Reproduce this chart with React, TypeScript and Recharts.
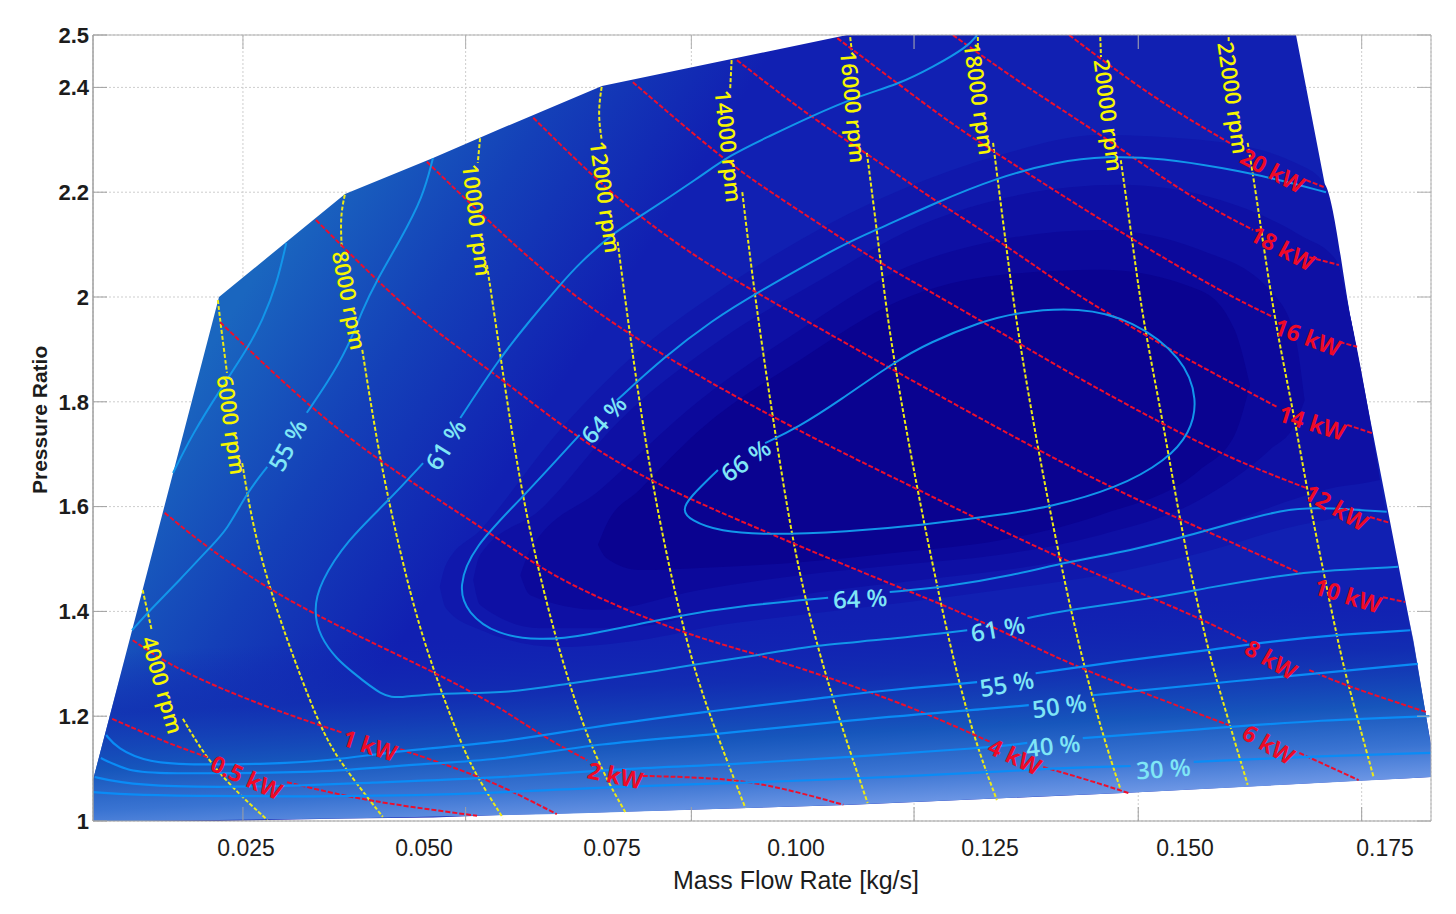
import {
  Area,
  CartesianGrid,
  ComposedChart,
  Line,
  ReferenceDot,
  XAxis,
  YAxis,
} from "recharts";

type Pt = [number, number];

const xDomain = [0.00487, 0.18092];
const yDomain = [1, 2.5];
const xGridTicks = [0.0246, 0.0539, 0.0836, 0.1129, 0.1424, 0.1718];
const xLabelTicks = [0.025, 0.05, 0.075, 0.1, 0.125, 0.15, 0.175];
const xLabelText = ["0.025", "0.050", "0.075", "0.100", "0.125", "0.150", "0.175"];
const xLabelNudge = [0, -12, -14, -20, -16, -11, -1];
const yTicks = [1, 1.2, 1.4, 1.6, 1.8, 2, 2.2, 2.4, 2.5];

// map outline
const mapX = [0.00487, 0.02145, 0.03803, 0.04961, 0.05842, 0.07184, 0.10408, 0.14039, 0.16316, 0.17039, 0.17855, 0.18092];
const mapUpper = [1.0782, 2, 2.1966, 2.2653, 2.3206, 2.4027, 2.5, 2.5, 2.5, 1.9561, 1.3454, 1.145];
const mapLower = [1, 1, 1.0048, 1.0067, 1.0115, 1.0166, 1.0305, 1.0534, 1.0706, 1.0763, 1.082, 1.084];

// pale strip along the bottom
const stripX = [0.00487, 0.0111, 0.0378, 0.0659, 0.1036, 0.1404, 0.1775, 0.1786, 0.1809];
const stripUpper = [1.0782, 1.422, 1.422, 1.422, 1.422, 1.422, 1.422, 1.3454, 1.145];
const stripLower = [1, 1, 1.0048, 1.0134, 1.0305, 1.0534, 1.081, 1.082, 1.084];

// efficiency shading, outer to inner
const band1X = [0.0505, 0.0513, 0.0558, 0.0663, 0.0768, 0.0874, 0.0979, 0.1111, 0.1242, 0.1374, 0.1505, 0.1637, 0.167, 0.1704, 0.1749];
const band1Top = [1.447, 1.489, 1.555, 1.746, 1.899, 2.013, 2.109, 2.204, 2.271, 2.309, 2.3, 2.252, 2.214, 1.956, 1.594];
const band1Bottom = [1.447, 1.406, 1.365, 1.332, 1.345, 1.374, 1.393, 1.416, 1.441, 1.469, 1.511, 1.565, 1.574, 1.584, 1.594];
const band2X = [0.0549, 0.0558, 0.0637, 0.0742, 0.0874, 0.1005, 0.1137, 0.1268, 0.14, 0.1532, 0.1637, 0.1684, 0.1704, 0.1729, 0.1742];
const band2Top = [1.46, 1.508, 1.594, 1.765, 1.918, 2.032, 2.137, 2.195, 2.214, 2.185, 2.118, 2.071, 1.956, 1.765, 1.651];
const band2Bottom = [1.46, 1.412, 1.368, 1.368, 1.403, 1.437, 1.46, 1.483, 1.517, 1.565, 1.618, 1.637, 1.641, 1.647, 1.651];
const band3X = [0.0611, 0.0624, 0.0716, 0.0847, 0.0979, 0.1111, 0.1242, 0.1374, 0.1505, 0.1597, 0.163, 0.1643];
const band3Top = [1.469, 1.517, 1.632, 1.803, 1.937, 2.052, 2.109, 2.128, 2.09, 2.013, 1.927, 1.803];
const band3Bottom = [1.469, 1.431, 1.403, 1.441, 1.469, 1.489, 1.508, 1.546, 1.613, 1.708, 1.756, 1.803];
const band4X = [0.0713, 0.0724, 0.0768, 0.0847, 0.0979, 0.1111, 0.1242, 0.1374, 0.1505, 0.1551, 0.1571];
const band4Top = [1.527, 1.565, 1.632, 1.746, 1.88, 1.994, 2.042, 2.052, 2.013, 1.937, 1.832];
const band4Bottom = [1.527, 1.502, 1.479, 1.483, 1.494, 1.513, 1.536, 1.584, 1.67, 1.737, 1.832];

// efficiency contours, split where the labels sit
const effTopLeft: Pt[] = [[0.0303, 2.103], [0.0291, 2.027], [0.0272, 1.956], [0.0251, 1.899], [0.0216, 1.823], [0.018, 1.74], [0.0154, 1.664]];
const eff55a: Pt[] = [[0.0496, 2.265], [0.0483, 2.191], [0.0453, 2.109], [0.0422, 2.032], [0.0403, 1.975], [0.0384, 1.903], [0.0357, 1.836], [0.033, 1.779]];
const eff55b: Pt[] = [[0.0278, 1.676], [0.0251, 1.626], [0.0225, 1.555], [0.0203, 1.523], [0.0163, 1.46], [0.0124, 1.403], [0.01, 1.364]];
const eff61a: Pt[] = [[0.1212, 2.5], [0.1199, 2.477], [0.1154, 2.439], [0.1107, 2.405], [0.1058, 2.385], [0.0992, 2.344], [0.0936, 2.305], [0.0887, 2.271], [0.0847, 2.229], [0.0768, 2.153], [0.0733, 2.122], [0.0689, 2.065], [0.0663, 2.023], [0.0624, 1.956], [0.0584, 1.884], [0.0532, 1.769]];
const eff61b: Pt[] = [[0.0483, 1.683], [0.0436, 1.609], [0.0383, 1.536], [0.0347, 1.454], [0.0339, 1.403], [0.0347, 1.351], [0.0371, 1.307], [0.0387, 1.288], [0.043, 1.237], [0.0453, 1.235], [0.0496, 1.244], [0.0601, 1.244], [0.0674, 1.263], [0.0759, 1.279], [0.0838, 1.298], [0.0926, 1.317], [0.1001, 1.336], [0.1084, 1.345], [0.1199, 1.364]];
const eff61c: Pt[] = [[0.1278, 1.387], [0.133, 1.403], [0.1449, 1.426], [0.1514, 1.445], [0.1611, 1.469], [0.168, 1.479], [0.1766, 1.485]];
const eff64a: Pt[] = [[0.1671, 2.2], [0.1601, 2.227], [0.1536, 2.246], [0.1457, 2.265], [0.1382, 2.269], [0.1316, 2.258], [0.1237, 2.227], [0.1159, 2.181], [0.108, 2.128], [0.1041, 2.105], [0.0922, 2.008], [0.0864, 1.956], [0.0799, 1.884], [0.0738, 1.803]];
const eff64b: Pt[] = [[0.0689, 1.737], [0.0611, 1.613], [0.0549, 1.523], [0.0529, 1.447], [0.0541, 1.397], [0.058, 1.355], [0.0637, 1.345], [0.0689, 1.351], [0.0821, 1.393], [0.0909, 1.412], [0.1016, 1.426]];
const eff64c: Pt[] = [[0.1097, 1.437], [0.1172, 1.447], [0.1259, 1.469], [0.133, 1.494], [0.1417, 1.517], [0.1483, 1.542], [0.1549, 1.569], [0.1614, 1.594], [0.1659, 1.599], [0.1751, 1.59]];
const eff66: Pt[] = [[0.0933, 1.721], [0.0975, 1.75], [0.1032, 1.803], [0.1101, 1.874], [0.115, 1.914], [0.1216, 1.952], [0.1264, 1.971], [0.1347, 1.981], [0.1417, 1.956], [0.1483, 1.885], [0.1503, 1.803], [0.1492, 1.74], [0.1462, 1.689], [0.1396, 1.635], [0.1308, 1.599], [0.1242, 1.584], [0.1141, 1.565], [0.1041, 1.552], [0.0936, 1.546], [0.0874, 1.552], [0.0834, 1.574], [0.0824, 1.594], [0.0834, 1.618], [0.0871, 1.67]];
const low55a: Pt[] = [[0.0066, 1.164], [0.008, 1.139], [0.012, 1.111], [0.0189, 1.107], [0.0278, 1.109], [0.0364, 1.115], [0.0453, 1.135], [0.0584, 1.149], [0.0693, 1.177], [0.0851, 1.208], [0.1022, 1.237], [0.1067, 1.246], [0.1212, 1.265]];
const low55b: Pt[] = [[0.1289, 1.282], [0.1409, 1.307], [0.1518, 1.326], [0.1593, 1.342], [0.168, 1.355], [0.1782, 1.364]];
const low50a: Pt[] = [[0.0059, 1.12], [0.0093, 1.097], [0.0124, 1.09], [0.0278, 1.092], [0.0364, 1.094], [0.0496, 1.111], [0.0584, 1.116], [0.0716, 1.149], [0.0864, 1.164], [0.1045, 1.193], [0.1242, 1.216], [0.128, 1.221]];
const low50b: Pt[] = [[0.1364, 1.24], [0.1536, 1.265], [0.1792, 1.3]];
const low40a: Pt[] = [[0.0051, 1.084], [0.008, 1.074], [0.0146, 1.065], [0.0278, 1.065], [0.0409, 1.073], [0.0584, 1.082], [0.0755, 1.101], [0.0883, 1.107], [0.1041, 1.122], [0.122, 1.139], [0.1278, 1.149]];
const low40b: Pt[] = [[0.1351, 1.158], [0.1513, 1.176], [0.1667, 1.193], [0.1807, 1.2]];
const low30a: Pt[] = [[0.0049, 1.055], [0.0101, 1.05], [0.0189, 1.048], [0.0364, 1.046], [0.0584, 1.053], [0.0716, 1.065], [0.0913, 1.073], [0.1067, 1.082], [0.1242, 1.094], [0.1316, 1.101], [0.1414, 1.105]];
const low30b: Pt[] = [[0.1497, 1.113], [0.1667, 1.124], [0.1809, 1.13]];

// power lines
const kw05a: Pt[] = [[0.0074, 1.195], [0.0146, 1.149], [0.0199, 1.122]];
const kw05b: Pt[] = [[0.0304, 1.074], [0.0364, 1.053], [0.043, 1.034], [0.0554, 1.01]];
const kw1a: Pt[] = [[0.0101, 1.345], [0.0159, 1.288], [0.0278, 1.216], [0.0378, 1.168]];
const kw1b: Pt[] = [[0.0453, 1.137], [0.0522, 1.103], [0.0584, 1.069], [0.0659, 1.013]];
const kw2a: Pt[] = [[0.0143, 1.588], [0.0203, 1.517], [0.0282, 1.441], [0.0338, 1.397], [0.0409, 1.345], [0.0492, 1.288], [0.0584, 1.218], [0.0637, 1.164], [0.0699, 1.116]];
const kw2b: Pt[] = [[0.0772, 1.086], [0.0883, 1.082], [0.0957, 1.063], [0.1036, 1.031]];
const kw4a: Pt[] = [[0.0216, 1.952], [0.033, 1.794], [0.0426, 1.685], [0.0571, 1.55], [0.0628, 1.492], [0.0689, 1.441], [0.0821, 1.359], [0.0926, 1.317], [0.1014, 1.275], [0.1071, 1.246], [0.1141, 1.208], [0.1229, 1.151]];
const kw4b: Pt[] = [[0.1299, 1.103], [0.1359, 1.078], [0.1412, 1.053]];
const kw6a: Pt[] = [[0.0342, 2.147], [0.0422, 2.032], [0.0479, 1.956], [0.058, 1.851], [0.0689, 1.727], [0.0782, 1.647], [0.0936, 1.55], [0.1107, 1.447], [0.1216, 1.384], [0.1321, 1.307], [0.1421, 1.25], [0.1543, 1.183]];
const kw6b: Pt[] = [[0.1636, 1.13], [0.1714, 1.078]];
const kw8a: Pt[] = [[0.0488, 2.258], [0.0584, 2.124], [0.0663, 2.023], [0.0753, 1.927], [0.0939, 1.771], [0.1128, 1.637], [0.1207, 1.58], [0.1321, 1.502], [0.1439, 1.427], [0.1505, 1.387], [0.1567, 1.342]];
const kw8b: Pt[] = [[0.1649, 1.288], [0.1701, 1.256], [0.1803, 1.208]];
const kw10a: Pt[] = [[0.0628, 2.342], [0.0707, 2.229], [0.0768, 2.153], [0.0847, 2.071], [0.0922, 2.008], [0.1101, 1.861], [0.1291, 1.708], [0.1391, 1.635], [0.1475, 1.578], [0.1637, 1.473]];
const kw10b: Pt[] = [[0.1746, 1.427], [0.1775, 1.418]];
const kw12a: Pt[] = [[0.0759, 2.41], [0.0874, 2.267], [0.0936, 2.204], [0.1041, 2.105], [0.1084, 2.065], [0.1216, 1.956], [0.133, 1.857], [0.1453, 1.76], [0.1549, 1.689], [0.1646, 1.635]];
const kw12b: Pt[] = [[0.1729, 1.58], [0.1755, 1.569]];
const kw14a: Pt[] = [[0.0896, 2.452], [0.0992, 2.344], [0.108, 2.261], [0.1159, 2.181], [0.125, 2.099], [0.1338, 2.008], [0.14, 1.956], [0.1483, 1.885], [0.1607, 1.79]];
const kw14b: Pt[] = [[0.1699, 1.756], [0.1732, 1.74]];
const kw16a: Pt[] = [[0.1028, 2.494], [0.1107, 2.408], [0.1184, 2.324], [0.1272, 2.242], [0.1412, 2.113], [0.1536, 2.008], [0.1601, 1.962]];
const kw16b: Pt[] = [[0.1689, 1.914], [0.1712, 1.905]];
const kw18a: Pt[] = [[0.118, 2.5], [0.1272, 2.405], [0.1372, 2.313], [0.1491, 2.191], [0.1575, 2.128]];
const kw18b: Pt[] = [[0.1649, 2.076], [0.1688, 2.061]];
const kw20a: Pt[] = [[0.1333, 2.5], [0.1447, 2.376], [0.1549, 2.29]];
const kw20b: Pt[] = [[0.1645, 2.223], [0.1668, 2.21]];

// speed lines
const rpm4a: Pt[] = [[0.0114, 1.441], [0.0126, 1.364]];
const rpm4b: Pt[] = [[0.0167, 1.195], [0.0207, 1.097], [0.0278, 1.002]];
const rpm6a: Pt[] = [[0.0213, 1.994], [0.0216, 1.956], [0.0225, 1.855]];
const rpm6b: Pt[] = [[0.0245, 1.683], [0.0259, 1.561], [0.0282, 1.441], [0.0304, 1.345], [0.0347, 1.179], [0.0374, 1.111], [0.043, 1.008]];
const rpm8a: Pt[] = [[0.038, 2.195], [0.0374, 2.153], [0.0376, 2.095]];
const rpm8b: Pt[] = [[0.0403, 1.899], [0.0426, 1.689], [0.0453, 1.511], [0.0482, 1.345], [0.0532, 1.149], [0.0554, 1.084], [0.0588, 1.006]];
const rpm10a: Pt[] = [[0.0558, 2.303], [0.0555, 2.256]];
const rpm10b: Pt[] = [[0.0567, 2.061], [0.0578, 1.956], [0.0611, 1.626], [0.0654, 1.359], [0.0703, 1.135], [0.0749, 1.017]];
const rpm12a: Pt[] = [[0.0718, 2.401], [0.0713, 2.351], [0.0718, 2.3]];
const rpm12b: Pt[] = [[0.0739, 2.105], [0.0749, 1.994], [0.0782, 1.647], [0.0828, 1.345], [0.0857, 1.212], [0.0907, 1.025]];
const rpm14a: Pt[] = [[0.0889, 2.452], [0.0887, 2.395]];
const rpm14b: Pt[] = [[0.0903, 2.2], [0.092, 1.994], [0.0943, 1.771], [0.097, 1.523], [0.0999, 1.345], [0.1032, 1.187], [0.1068, 1.034]];
const rpm16a: Pt[] = [[0.1045, 2.496], [0.1047, 2.471]];
const rpm16b: Pt[] = [[0.1067, 2.275], [0.108, 2.128], [0.1091, 1.994], [0.1104, 1.866], [0.1133, 1.632], [0.1174, 1.345], [0.1207, 1.16], [0.1238, 1.04]];
const rpm18a: Pt[] = [[0.1213, 2.496], [0.1213, 2.475]];
const rpm18b: Pt[] = [[0.1233, 2.294], [0.125, 2.099], [0.1263, 1.956], [0.1292, 1.708], [0.1321, 1.498], [0.1347, 1.326], [0.1378, 1.16], [0.1401, 1.059]];
const rpm20a: Pt[] = [[0.1374, 2.496], [0.1375, 2.458]];
const rpm20b: Pt[] = [[0.1401, 2.261], [0.1417, 2.099], [0.143, 1.956], [0.1457, 1.76], [0.1483, 1.536], [0.1516, 1.326], [0.153, 1.254], [0.1568, 1.069]];
const rpm22a: Pt[] = [[0.1543, 2.496], [0.1543, 2.487]];
const rpm22b: Pt[] = [[0.1568, 2.294], [0.1579, 2.198], [0.1603, 1.956], [0.1628, 1.784], [0.165, 1.599], [0.1689, 1.326], [0.1701, 1.256], [0.1734, 1.082]];

const effSegments = [effTopLeft, eff55a, eff55b, eff61a, eff61b, eff61c, eff64a, eff64b, eff64c, eff66];
const lowSegments = [low55a, low55b, low50a, low50b, low40a, low40b, low30a, low30b];
const powerSegments = [kw05a, kw05b, kw1a, kw1b, kw2a, kw2b, kw4a, kw4b, kw6a, kw6b, kw8a, kw8b, kw10a, kw10b, kw12a, kw12b, kw14a, kw14b, kw16a, kw16b, kw18a, kw18b, kw20a, kw20b];
const speedSegments = [rpm4a, rpm4b, rpm6a, rpm6b, rpm8a, rpm8b, rpm10a, rpm10b, rpm12a, rpm12b, rpm14a, rpm14b, rpm16a, rpm16b, rpm18a, rpm18b, rpm20a, rpm20b, rpm22a, rpm22b];

type Note = [string, number, number, number];

const speedNotes: Note[] = [
  ["4000 rpm", 0.0141, 1.26, 74],
  ["6000 rpm", 0.0232, 1.756, 82],
  ["8000 rpm", 0.0387, 1.994, 79],
  ["10000 rpm", 0.0555, 2.147, 83],
  ["12000 rpm", 0.0724, 2.191, 82],
  ["14000 rpm", 0.0886, 2.288, 84],
  ["16000 rpm", 0.105, 2.363, 85],
  ["18000 rpm", 0.1216, 2.378, 82],
  ["20000 rpm", 0.1386, 2.347, 83],
  ["22000 rpm", 0.155, 2.38, 82],
];
const powerNotes: Note[] = [
  ["0.5 kW", 0.0251, 1.084, 24],
  ["1 kW", 0.0413, 1.145, 18],
  ["2 kW", 0.0736, 1.088, 12],
  ["4 kW", 0.1262, 1.124, 25],
  ["6 kW", 0.1596, 1.147, 30],
  ["8 kW", 0.1599, 1.309, 30],
  ["10 kW", 0.17, 1.431, 17],
  ["12 kW", 0.1685, 1.599, 30],
  ["14 kW", 0.1653, 1.761, 17],
  ["16 kW", 0.1647, 1.924, 20],
  ["18 kW", 0.1614, 2.094, 28],
  ["20 kW", 0.1601, 2.242, 28],
];
const effNotes: Note[] = [
  ["55 %", 0.0304, 1.718, -62],
  ["61 %", 0.0512, 1.719, -58],
  ["64 %", 0.072, 1.767, -48],
  ["66 %", 0.0907, 1.689, -35],
  ["64 %", 0.1058, 1.426, -3],
  ["61 %", 0.1239, 1.368, -10],
  ["55 %", 0.1251, 1.263, -10],
  ["50 %", 0.132, 1.221, -8],
  ["40 %", 0.1312, 1.145, -6],
  ["30 %", 0.1457, 1.101, -4],
];

const bandRows = (xs: number[], tops: number[], bottoms: number[]) =>
  xs.map((x, i) => ({ x, range: [bottoms[i], tops[i]] }));
const lineRows = (pts: Pt[]) => pts.map(([x, y]) => ({ x, y }));

const FONT = "'Open Sans', sans-serif";
const AXIS_FONT = "'Liberation Sans', Arial, sans-serif";

const noteDots = (notes: Note[], fill: string, size: number, weight: number) =>
  notes.map(([text, x, y, angle]) => (
    <ReferenceDot
      key={`${text}-${x}`}
      x={x}
      y={y}
      r={0}
      ifOverflow="visible"
      shape={(p: any) => (
        <text
          x={p.cx}
          y={p.cy}
          transform={`rotate(${angle} ${p.cx} ${p.cy})`}
          textAnchor="middle"
          dominantBaseline="central"
          fontFamily={FONT}
          fontSize={size}
          fontWeight={weight}
          fill={fill}
        >
          {text}
        </text>
      )}
    />
  ));

const XLabelTick = ({ x, y, index }: any) => (
  <text
    x={x + xLabelNudge[index]}
    y={y + 27}
    textAnchor="middle"
    fontFamily={AXIS_FONT}
    fontSize={23}
    fill="#1c1c1c"
  >
    {xLabelText[index]}
  </text>
);

const EmptyTick = () => <g />;

const App = () => (
  <div style={{ position: "absolute", left: 0, top: 0, width: 1456, height: 914, background: "#fff" }}>
    <ComposedChart width={1456} height={914} margin={{ top: 35, right: 25, bottom: 0, left: 0 }}>
      <defs>
        <linearGradient id="mapFill" gradientUnits="userSpaceOnUse" x1={220} y1={330} x2={490} y2={500}>
          <stop offset="0" stopColor="#1a66bf" />
          <stop offset="0.5" stopColor="#1440b8" />
          <stop offset="1" stopColor="#1120b2" />
        </linearGradient>
        <linearGradient id="stripFill" gradientUnits="userSpaceOnUse" x1={760} y1={620} x2={770} y2={822}>
          <stop offset="0" stopColor="#1224b2" stopOpacity={0} />
          <stop offset="0.3" stopColor="#1230b2" stopOpacity={0.8} />
          <stop offset="0.58" stopColor="#1656bc" />
          <stop offset="0.78" stopColor="#3a74d2" />
          <stop offset="0.95" stopColor="#6f98e6" />
        </linearGradient>
      </defs>

      <CartesianGrid stroke="#cdcdcd" strokeDasharray="2 2" strokeWidth={1} />

      <XAxis
        dataKey="x"
        type="number"
        domain={xDomain}
        ticks={xGridTicks}
        interval={0}
        mirror
        tick={<EmptyTick />}
        tickSize={14}
        stroke="#a0a0a0"
        allowDataOverflow
      />
      <XAxis
        xAxisId="top"
        orientation="top"
        dataKey="x"
        type="number"
        domain={xDomain}
        ticks={xGridTicks}
        interval={0}
        mirror
        tick={<EmptyTick />}
        tickSize={14}
        stroke="#b0b0b0"
        allowDataOverflow
      />
      <XAxis
        xAxisId="labels"
        dataKey="x"
        type="number"
        domain={xDomain}
        ticks={xLabelTicks}
        interval={0}
        height={93}
        axisLine={false}
        tickLine={false}
        tick={<XLabelTick />}
        allowDataOverflow
        label={{
          value: "Mass Flow Rate [kg/s]",
          position: "insideBottom",
          offset: 25,
          dx: 34,
          fontFamily: AXIS_FONT,
          fontSize: 25,
          fill: "#1c1c1c",
        }}
      />
      <YAxis
        dataKey="y"
        type="number"
        domain={yDomain}
        ticks={yTicks}
        interval={0}
        width={93}
        axisLine={{ stroke: "#a0a0a0" }}
        tickLine={false}
        tickMargin={-2}
        tickFormatter={(v: number) => String(v)}
        tick={{ fontFamily: AXIS_FONT, fontSize: 22, fontWeight: 700, fill: "#1c1c1c" }}
        allowDataOverflow
        label={{
          value: "Pressure Ratio",
          angle: -90,
          position: "insideLeft",
          dx: 35,
          dy: 66,
          fontFamily: AXIS_FONT,
          fontSize: 21,
          fontWeight: 700,
          fill: "#1c1c1c",
        }}
      />
      <YAxis
        yAxisId="leftMarks"
        type="number"
        domain={yDomain}
        ticks={yTicks}
        interval={0}
        mirror
        tick={<EmptyTick />}
        tickSize={14}
        stroke="#a0a0a0"
        allowDataOverflow
      />
      <YAxis
        yAxisId="rightMarks"
        orientation="right"
        type="number"
        domain={yDomain}
        ticks={yTicks}
        interval={0}
        mirror
        tick={<EmptyTick />}
        tickSize={14}
        stroke="#b0b0b0"
        allowDataOverflow
      />

      <Area data={bandRows(mapX, mapUpper, mapLower)} dataKey="range" type="linear" stroke="none" fill="url(#mapFill)" fillOpacity={1} isAnimationActive={false} dot={false} activeDot={false} />
      <Area data={bandRows(stripX, stripUpper, stripLower)} dataKey="range" type="linear" stroke="none" fill="url(#stripFill)" fillOpacity={1} isAnimationActive={false} dot={false} activeDot={false} />
      <Area data={bandRows(band1X, band1Top, band1Bottom)} dataKey="range" type="monotone" stroke="none" fill="#1018ac" fillOpacity={1} isAnimationActive={false} dot={false} activeDot={false} />
      <Area data={bandRows(band2X, band2Top, band2Bottom)} dataKey="range" type="monotone" stroke="none" fill="#0e10a4" fillOpacity={1} isAnimationActive={false} dot={false} activeDot={false} />
      <Area data={bandRows(band3X, band3Top, band3Bottom)} dataKey="range" type="monotone" stroke="none" fill="#0c099b" fillOpacity={1} isAnimationActive={false} dot={false} activeDot={false} />
      <Area data={bandRows(band4X, band4Top, band4Bottom)} dataKey="range" type="monotone" stroke="none" fill="#0a0390" fillOpacity={1} isAnimationActive={false} dot={false} activeDot={false} />

      {speedSegments.map((seg, i) => (
        <Line key={`rpm${i}`} data={lineRows(seg)} dataKey="y" type="basis" stroke="#ecea14" strokeWidth={2} strokeDasharray="4 2" dot={false} activeDot={false} isAnimationActive={false} />
      ))}
      {powerSegments.map((seg, i) => (
        <Line key={`kw${i}`} data={lineRows(seg)} dataKey="y" type="basis" stroke="#ee0e2c" strokeWidth={2} strokeDasharray="5 2" dot={false} activeDot={false} isAnimationActive={false} />
      ))}
      {effSegments.map((seg, i) => (
        <Line key={`eff${i}`} data={lineRows(seg)} dataKey="y" type="basis" stroke="#1296ea" strokeWidth={2} dot={false} activeDot={false} isAnimationActive={false} />
      ))}
      {lowSegments.map((seg, i) => (
        <Line key={`low${i}`} data={lineRows(seg)} dataKey="y" type="basis" stroke="#0a8cf6" strokeWidth={2.2} dot={false} activeDot={false} isAnimationActive={false} />
      ))}

      {noteDots(speedNotes, "#f6f600", 22, 600)}
      {noteDots(powerNotes, "#ee0a28", 23, 700)}
      {noteDots(effNotes, "#7fe6f6", 24, 600)}
    </ComposedChart>
  </div>
);

export default App;
